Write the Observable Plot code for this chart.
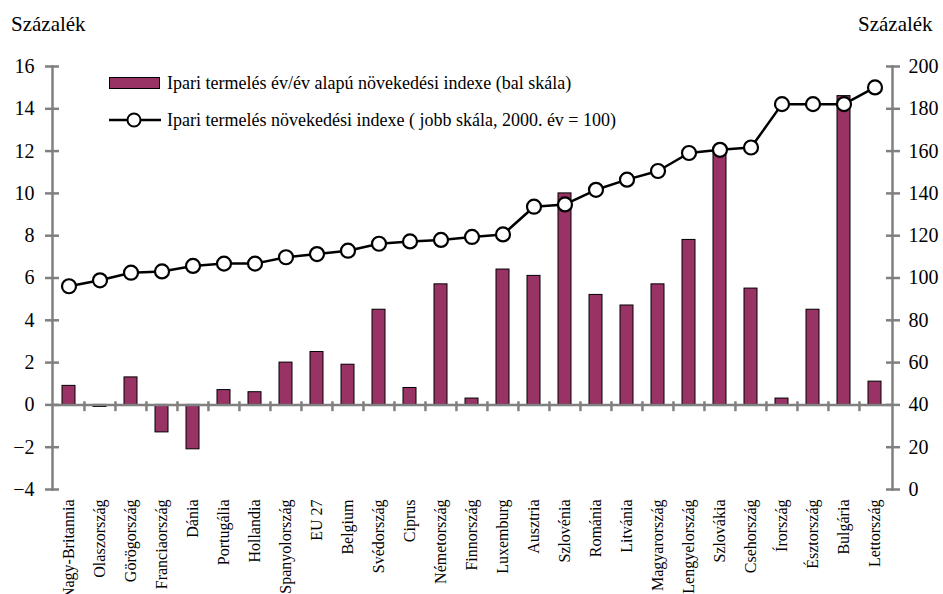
<!DOCTYPE html>
<html>
<head>
<meta charset="utf-8">
<script src="https://cdn.jsdelivr.net/npm/d3@7"></script>
<script src="https://cdn.jsdelivr.net/npm/@observablehq/plot@0.6"></script>
<style>
  html, body { margin: 0; padding: 0; background: #fff; }
  #wrap { position: relative; width: 943px; height: 594px; font-family: 'Liberation Serif', 'Tinos', 'Times New Roman', 'DejaVu Serif', serif; }
  .unit { position: absolute; top: 12px; font-size: 21px; color: #000; }
  #legend { position: absolute; left: 109px; top: 72px; font-size: 18px; color: #000; }
  #legend .row { display: flex; align-items: center; height: 22px; white-space: nowrap; }
  #legend .row + .row { margin-top: 15px; }
  #legend svg { margin-right: 6px; }
  #chart svg, #chart svg text { font-family: 'Liberation Serif', 'Tinos', 'Times New Roman', 'DejaVu Serif', serif !important; }
</style>
</head>
<body>
<div id="wrap">
  <div class="unit" style="left:11px">Százalék</div>
  <div class="unit" style="left:858px">Százalék</div>
  <div id="chart"></div>
  <div id="legend">
    <div class="row"><svg width="52" height="14"><rect x="0.5" y="1.5" width="50" height="11" fill="#993366" stroke="#000" stroke-width="1"/></svg>Ipari termelés év/év alapú növekedési indexe (bal skála)</div>
    <div class="row"><svg width="52" height="18"><line x1="0" y1="9" x2="52" y2="9" stroke="#000" stroke-width="2.5"/><circle cx="25" cy="9" r="6.5" fill="#fff" stroke="#000" stroke-width="2"/></svg>Ipari termelés növekedési indexe ( jobb skála, 2000. év = 100)</div>
  </div>
</div>
<script>
const categories = ["Nagy-Britannia","Olaszország","Görögország","Franciaország","Dánia","Portugália","Hollandia","Spanyolország","EU 27","Belgium","Svédország","Ciprus","Németország","Finnország","Luxemburg","Ausztria","Szlovénia","Románia","Litvánia","Magyarország","Lengyelország","Szlovákia","Csehország","Írország","Észtország","Bulgária","Lettország"];
const growth = [0.9,-0.1,1.3,-1.3,-2.1,0.7,0.6,2.0,2.5,1.9,4.5,0.8,5.7,0.3,6.4,6.1,10.0,5.2,4.7,5.7,7.8,12.1,5.5,0.3,4.5,14.6,1.1];
const index2000 = [96.1,98.9,102.5,103.1,105.7,106.8,106.8,109.8,111.3,112.9,116.2,117.3,118.0,119.4,120.6,133.7,134.8,141.7,146.5,150.6,159.1,160.6,161.7,182.2,182.2,182.2,190.1];
const leftTicks = [-4,-2,0,2,4,6,8,10,12,14,16];
const rightTicks = [0,20,40,60,80,100,120,140,160,180,200];

// right scale (0..200) maps onto left scale (-4..16): left = right/10 - 4
const toLeft = r => r / 10 - 4;

const W = 943, H = 594, mL = 52, mR = 51, mT = 66, mB = 105;
const step = (W - mL - mR) / categories.length;

const bars = categories.map((c, i) => ({c, v: growth[i]}));
const line = categories.map((c, i) => ({c, v: toLeft(index2000[i])}));
const rightTickPos = rightTicks.map(toLeft);
const axisColor = "#808080";
const font = "'Liberation Serif', 'Tinos', 'Times New Roman', 'DejaVu Serif', serif";

const plot = Plot.plot({
  width: W, height: H,
  marginLeft: mL, marginRight: mR, marginTop: mT, marginBottom: mB,
  style: {fontFamily: font, background: "transparent", color: "#000"},
  x: {type: "band", domain: categories, paddingInner: 0.58, paddingOuter: 0.29},
  y: {domain: [-4, 16]},
  marks: [
    Plot.barY(bars, {x: "c", y: "v", fill: "#993366", stroke: "#000", strokeWidth: 1}),
    // axis lines
    Plot.frame({anchor: "left", stroke: axisColor, strokeWidth: 2.5}),
    Plot.frame({anchor: "right", stroke: axisColor, strokeWidth: 2.5}),
    Plot.ruleY([0], {stroke: axisColor, strokeWidth: 2.5}),
    // category boundary ticks on the zero line
    Plot.ruleX(categories.slice(1), {x: d => d, y1: 0.15, y2: -0.32, dx: -step / 2, stroke: axisColor, strokeWidth: 2.5}),
    // left axis
    Plot.axisY(leftTicks, {anchor: "left", tickSize: 7, tickPadding: 11, fontSize: 20, stroke: axisColor, strokeWidth: 2.5, label: null, fontFamily: font}),
    Plot.axisY(leftTicks, {anchor: "left", tickSize: -7, text: null, stroke: axisColor, strokeWidth: 2.5, label: null}),
    // right axis
    Plot.axisY(rightTickPos, {anchor: "right", tickSize: 7, tickPadding: 9, fontSize: 20, stroke: axisColor, strokeWidth: 2.5, label: null, fontFamily: font,
      tickFormat: d => String(Math.round((d + 4) * 10))}),
    Plot.axisY(rightTickPos, {anchor: "right", tickSize: -7, text: null, stroke: axisColor, strokeWidth: 2.5, label: null}),
    // x labels
    Plot.axisX({anchor: "bottom", tickSize: 0, tickPadding: 10, tickRotate: -90, fontSize: 16, label: null, fontFamily: font}),
    // line series
    Plot.line(line, {x: "c", y: "v", stroke: "#000", strokeWidth: 2.5}),
    Plot.dot(line, {x: "c", y: "v", r: 7, fill: "#fff", stroke: "#000", strokeWidth: 2.2})
  ]
});
document.getElementById("chart").appendChild(plot);
</script>
</body>
</html>
